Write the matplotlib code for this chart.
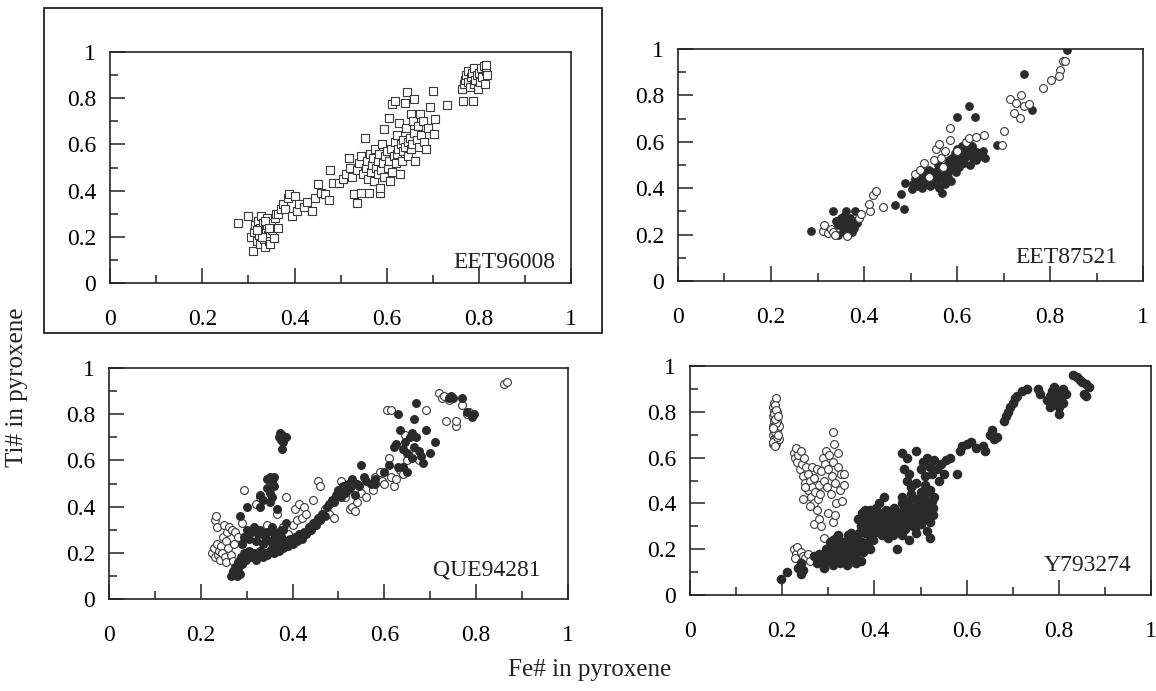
import matplotlib
matplotlib.use('Agg')
import matplotlib.pyplot as plt
from matplotlib.patches import Rectangle
from matplotlib.ticker import MultipleLocator

plt.rcParams['font.family'] = ['Liberation Serif', 'DejaVu Serif']

# Fe#, Ti# pairs
eet96008_open = [
    (0.277, 0.26), (0.30, 0.29), (0.305, 0.20), (0.31, 0.14), (0.312, 0.22), (0.315, 0.25), (0.318, 0.18),
    (0.32, 0.27), (0.322, 0.21), (0.325, 0.24), (0.326, 0.17), (0.328, 0.29), (0.33, 0.22), (0.332, 0.26),
    (0.334, 0.19), (0.336, 0.155), (0.338, 0.23), (0.34, 0.28), (0.341, 0.25), (0.343, 0.21), (0.345, 0.18),
    (0.347, 0.17), (0.35, 0.26), (0.352, 0.23), (0.355, 0.195), (0.358, 0.28), (0.36, 0.30), (0.365, 0.24),
    (0.33, 0.20), (0.318, 0.23), (0.335, 0.27), (0.345, 0.24),
    (0.365, 0.30), (0.37, 0.32), (0.375, 0.34), (0.379, 0.32), (0.385, 0.37), (0.389, 0.385), (0.395, 0.29),
    (0.40, 0.375), (0.405, 0.31), (0.41, 0.34), (0.42, 0.33), (0.426, 0.35), (0.438, 0.31), (0.445, 0.37),
    (0.451, 0.43), (0.458, 0.39), (0.465, 0.385), (0.474, 0.36), (0.476, 0.49), (0.484, 0.435),
    (0.496, 0.435), (0.505, 0.45),
    (0.512, 0.47), (0.518, 0.54), (0.52, 0.50), (0.525, 0.46), (0.529, 0.385), (0.535, 0.345), (0.535, 0.49),
    (0.54, 0.52), (0.545, 0.39), (0.545, 0.55), (0.548, 0.47), (0.553, 0.63), (0.555, 0.50), (0.558, 0.53),
    (0.56, 0.45), (0.561, 0.39), (0.563, 0.56), (0.565, 0.48), (0.568, 0.51), (0.57, 0.54), (0.572, 0.44),
    (0.575, 0.58), (0.577, 0.50), (0.58, 0.47), (0.582, 0.53), (0.584, 0.56), (0.586, 0.39), (0.586, 0.41),
    (0.588, 0.49), (0.59, 0.60), (0.592, 0.52), (0.594, 0.665), (0.595, 0.46), (0.597, 0.55), (0.60, 0.57),
    (0.602, 0.50), (0.604, 0.716), (0.605, 0.53), (0.607, 0.44), (0.61, 0.58), (0.611, 0.773), (0.612, 0.48),
    (0.615, 0.55), (0.617, 0.787), (0.618, 0.61), (0.62, 0.52), (0.622, 0.64), (0.623, 0.56), (0.625, 0.58),
    (0.627, 0.694), (0.628, 0.47), (0.63, 0.60), (0.632, 0.53), (0.635, 0.62), (0.636, 0.57), (0.639, 0.78),
    (0.64, 0.59), (0.642, 0.67), (0.643, 0.828), (0.645, 0.55), (0.647, 0.61), (0.65, 0.63), (0.652, 0.73),
    (0.653, 0.58), (0.655, 0.60), (0.657, 0.70), (0.66, 0.795), (0.66, 0.65), (0.662, 0.53), (0.665, 0.62),
    (0.668, 0.68), (0.67, 0.59), (0.672, 0.73), (0.675, 0.64), (0.678, 0.70), (0.68, 0.61), (0.686, 0.58),
    (0.69, 0.67), (0.693, 0.76), (0.70, 0.83), (0.703, 0.645), (0.705, 0.71), (0.731, 0.77),
    (0.762, 0.84), (0.766, 0.79), (0.768, 0.86), (0.77, 0.88), (0.772, 0.90), (0.775, 0.92), (0.777, 0.87),
    (0.78, 0.85), (0.782, 0.89), (0.785, 0.91), (0.787, 0.79), (0.788, 0.86), (0.79, 0.93), (0.792, 0.88),
    (0.795, 0.90), (0.797, 0.84), (0.80, 0.91), (0.802, 0.87), (0.805, 0.93), (0.807, 0.89), (0.81, 0.94),
    (0.812, 0.86), (0.815, 0.92), (0.816, 0.945), (0.818, 0.90),
]

eet87521_filled = [
    (0.286, 0.216), (0.334, 0.304), (0.344, 0.197), (0.38, 0.304),
    (0.34, 0.26), (0.345, 0.24), (0.35, 0.27), (0.352, 0.25), (0.355, 0.23), (0.358, 0.28), (0.36, 0.26),
    (0.362, 0.30), (0.365, 0.24), (0.368, 0.22), (0.37, 0.27), (0.372, 0.25), (0.375, 0.21), (0.378, 0.23),
    (0.38, 0.26), (0.384, 0.25), (0.348, 0.265), (0.356, 0.215),
    (0.467, 0.328), (0.485, 0.309), (0.48, 0.377), (0.489, 0.422), (0.503, 0.396),
    (0.505, 0.42), (0.51, 0.44), (0.515, 0.41), (0.518, 0.46), (0.52, 0.43), (0.523, 0.45), (0.525, 0.40),
    (0.528, 0.47), (0.53, 0.44), (0.532, 0.42), (0.535, 0.46), (0.538, 0.43), (0.54, 0.48), (0.542, 0.41),
    (0.545, 0.45), (0.548, 0.44), (0.55, 0.47), (0.552, 0.42), (0.555, 0.46), (0.558, 0.43), (0.56, 0.50),
    (0.562, 0.40), (0.565, 0.45), (0.567, 0.38), (0.568, 0.48), (0.57, 0.44), (0.573, 0.47), (0.575, 0.42),
    (0.578, 0.50), (0.58, 0.45), (0.582, 0.52), (0.585, 0.48), (0.587, 0.43), (0.59, 0.53), (0.592, 0.50),
    (0.595, 0.55), (0.597, 0.47), (0.60, 0.57), (0.602, 0.52), (0.605, 0.49), (0.608, 0.55), (0.61, 0.58),
    (0.612, 0.53), (0.615, 0.51), (0.618, 0.56), (0.62, 0.59), (0.622, 0.54), (0.625, 0.57), (0.628, 0.50),
    (0.63, 0.55), (0.633, 0.58), (0.635, 0.53), (0.638, 0.56), (0.64, 0.52), (0.645, 0.55), (0.65, 0.54),
    (0.655, 0.56), (0.66, 0.53),
    (0.601, 0.709), (0.626, 0.753), (0.638, 0.709), (0.687, 0.587), (0.743, 0.894), (0.761, 0.738),
    (0.836, 0.997),
]
eet87521_open = [
    (0.311, 0.216), (0.315, 0.242), (0.322, 0.205), (0.328, 0.225), (0.333, 0.21), (0.338, 0.20),
    (0.364, 0.194), (0.389, 0.27), (0.393, 0.289), (0.413, 0.304), (0.411, 0.332), (0.419, 0.371),
    (0.425, 0.388), (0.44, 0.318), (0.51, 0.46), (0.52, 0.48), (0.529, 0.508), (0.54, 0.45), (0.55, 0.52),
    (0.555, 0.57), (0.561, 0.591), (0.565, 0.53), (0.57, 0.49), (0.575, 0.56), (0.585, 0.659),
    (0.585, 0.606), (0.60, 0.56), (0.62, 0.60), (0.626, 0.616), (0.64, 0.623), (0.659, 0.629), (0.70, 0.647),
    (0.697, 0.587), (0.714, 0.786), (0.726, 0.767), (0.738, 0.803), (0.722, 0.724), (0.736, 0.702),
    (0.743, 0.755), (0.754, 0.764), (0.785, 0.832), (0.803, 0.865), (0.821, 0.911), (0.82, 0.882),
    (0.828, 0.947), (0.832, 0.947),
]

que94281_open = [
    (0.225, 0.20), (0.228, 0.22), (0.23, 0.18), (0.232, 0.34), (0.233, 0.36), (0.235, 0.31), (0.236, 0.24),
    (0.238, 0.19), (0.24, 0.21), (0.242, 0.17), (0.245, 0.23), (0.246, 0.20), (0.248, 0.27), (0.25, 0.32),
    (0.252, 0.18), (0.254, 0.25), (0.256, 0.16), (0.258, 0.29), (0.26, 0.22), (0.262, 0.31), (0.265, 0.19),
    (0.268, 0.30), (0.27, 0.165), (0.272, 0.24), (0.275, 0.29), (0.28, 0.27), (0.29, 0.33), (0.295, 0.47),
    (0.31, 0.29), (0.32, 0.41), (0.33, 0.44), (0.335, 0.27), (0.345, 0.32), (0.36, 0.26), (0.365, 0.37),
    (0.37, 0.23), (0.38, 0.31), (0.385, 0.44), (0.39, 0.28), (0.40, 0.32), (0.405, 0.39), (0.41, 0.34),
    (0.415, 0.41), (0.42, 0.35), (0.425, 0.40), (0.43, 0.37), (0.445, 0.43), (0.455, 0.51), (0.46, 0.49),
    (0.47, 0.39), (0.48, 0.37), (0.49, 0.35), (0.505, 0.51), (0.515, 0.44), (0.52, 0.47), (0.525, 0.39),
    (0.53, 0.40), (0.535, 0.38), (0.54, 0.42), (0.55, 0.46), (0.56, 0.44), (0.575, 0.47), (0.58, 0.53),
    (0.59, 0.55), (0.595, 0.51), (0.60, 0.50), (0.605, 0.82), (0.615, 0.82), (0.61, 0.61), (0.615, 0.53),
    (0.62, 0.49), (0.625, 0.52), (0.635, 0.56), (0.64, 0.54), (0.645, 0.71), (0.65, 0.60), (0.66, 0.62),
    (0.67, 0.63), (0.675, 0.60), (0.69, 0.82), (0.72, 0.89), (0.725, 0.87), (0.74, 0.86), (0.73, 0.88),
    (0.735, 0.77), (0.755, 0.75), (0.756, 0.77), (0.77, 0.84), (0.78, 0.80), (0.785, 0.81), (0.86, 0.93),
    (0.868, 0.94),
]
que94281_filled = [
    (0.265, 0.10), (0.27, 0.12), (0.272, 0.11), (0.275, 0.14), (0.278, 0.10), (0.28, 0.16), (0.282, 0.13),
    (0.285, 0.11), (0.288, 0.18), (0.29, 0.15), (0.295, 0.20), (0.298, 0.17), (0.30, 0.19), (0.305, 0.21),
    (0.31, 0.18), (0.315, 0.20), (0.32, 0.17), (0.325, 0.19), (0.33, 0.21), (0.335, 0.18), (0.34, 0.20),
    (0.345, 0.19), (0.35, 0.21), (0.355, 0.22), (0.36, 0.20), (0.365, 0.23), (0.37, 0.21), (0.375, 0.24),
    (0.38, 0.22), (0.385, 0.25), (0.39, 0.23), (0.395, 0.26), (0.40, 0.24), (0.405, 0.27), (0.41, 0.25),
    (0.415, 0.28), (0.42, 0.26), (0.425, 0.29), (0.43, 0.28), (0.435, 0.31), (0.44, 0.30), (0.445, 0.33),
    (0.45, 0.32), (0.455, 0.35), (0.46, 0.34), (0.465, 0.37), (0.47, 0.36), (0.475, 0.40), (0.48, 0.41),
    (0.485, 0.43), (0.49, 0.42), (0.495, 0.45), (0.50, 0.47), (0.505, 0.44), (0.51, 0.49), (0.515, 0.46),
    (0.52, 0.50), (0.525, 0.48), (0.53, 0.52), (0.535, 0.45), (0.54, 0.50), (0.545, 0.49), (0.55, 0.58),
    (0.555, 0.53), (0.56, 0.51), (0.57, 0.50), (0.58, 0.52),
    (0.29, 0.24), (0.295, 0.27), (0.30, 0.30), (0.305, 0.26), (0.31, 0.29), (0.315, 0.31), (0.32, 0.25),
    (0.325, 0.28), (0.33, 0.30), (0.335, 0.24), (0.34, 0.27), (0.345, 0.29), (0.35, 0.25), (0.355, 0.31),
    (0.36, 0.28), (0.365, 0.25), (0.37, 0.29), (0.375, 0.27), (0.38, 0.30), (0.285, 0.36), (0.30, 0.40),
    (0.37, 0.70), (0.372, 0.72), (0.375, 0.69), (0.378, 0.71), (0.38, 0.68), (0.385, 0.70), (0.376, 0.65),
    (0.345, 0.52), (0.35, 0.53), (0.355, 0.51), (0.36, 0.53), (0.345, 0.48), (0.35, 0.46), (0.355, 0.44),
    (0.35, 0.42), (0.36, 0.49), (0.33, 0.45), (0.335, 0.43), (0.33, 0.40), (0.365, 0.39), (0.375, 0.30),
    (0.385, 0.33),
    (0.61, 0.58), (0.62, 0.66), (0.625, 0.67), (0.63, 0.80), (0.635, 0.73), (0.64, 0.65), (0.645, 0.68),
    (0.65, 0.63), (0.655, 0.70), (0.66, 0.72), (0.66, 0.61), (0.665, 0.66), (0.67, 0.70), (0.675, 0.64),
    (0.68, 0.62), (0.67, 0.85), (0.665, 0.78), (0.685, 0.59), (0.69, 0.73), (0.70, 0.63), (0.71, 0.68),
    (0.74, 0.87), (0.745, 0.88), (0.75, 0.87), (0.77, 0.87), (0.79, 0.79), (0.795, 0.80), (0.78, 0.81),
    (0.64, 0.57), (0.65, 0.55), (0.60, 0.55), (0.58, 0.50), (0.63, 0.57),
]

y793274_open = [
    (0.18, 0.66), (0.18, 0.70), (0.18, 0.74), (0.18, 0.78), (0.18, 0.82), (0.183, 0.68), (0.183, 0.72),
    (0.183, 0.76), (0.183, 0.80), (0.183, 0.84), (0.186, 0.66), (0.186, 0.70), (0.186, 0.74), (0.186, 0.78),
    (0.186, 0.86), (0.189, 0.72), (0.189, 0.76), (0.189, 0.80), (0.192, 0.68), (0.192, 0.74),
    (0.181, 0.67), (0.184, 0.71), (0.187, 0.75), (0.182, 0.79), (0.185, 0.83), (0.188, 0.69),
    (0.181, 0.73), (0.184, 0.77), (0.187, 0.81), (0.19, 0.70), (0.19, 0.78), (0.185, 0.65),
    (0.225, 0.62), (0.228, 0.60), (0.23, 0.64), (0.233, 0.58), (0.235, 0.61), (0.238, 0.55), (0.24, 0.63),
    (0.242, 0.57), (0.245, 0.52), (0.247, 0.60), (0.25, 0.49), (0.252, 0.56), (0.255, 0.46), (0.257, 0.53),
    (0.26, 0.50), (0.262, 0.43), (0.265, 0.47), (0.268, 0.40), (0.27, 0.51), (0.272, 0.45), (0.275, 0.37),
    (0.278, 0.42), (0.28, 0.48), (0.283, 0.44), (0.246, 0.42), (0.25, 0.47), (0.26, 0.39), (0.265, 0.56),
    (0.275, 0.55),
    (0.285, 0.54), (0.288, 0.60), (0.29, 0.50), (0.292, 0.57), (0.295, 0.63), (0.297, 0.47), (0.30, 0.55),
    (0.302, 0.61), (0.305, 0.44), (0.307, 0.52), (0.31, 0.58), (0.31, 0.71), (0.312, 0.66), (0.315, 0.49),
    (0.317, 0.40), (0.32, 0.56), (0.322, 0.62), (0.325, 0.46), (0.328, 0.53), (0.33, 0.41), (0.335, 0.48),
    (0.335, 0.53),
    (0.27, 0.31), (0.28, 0.33), (0.285, 0.30), (0.29, 0.25), (0.30, 0.36), (0.31, 0.32), (0.315, 0.35),
    (0.225, 0.20), (0.23, 0.18), (0.232, 0.21), (0.235, 0.16), (0.24, 0.19), (0.245, 0.17), (0.25, 0.16),
    (0.255, 0.18), (0.26, 0.15), (0.228, 0.16),
]
y793274_filled = [
    (0.197, 0.07), (0.21, 0.10), (0.24, 0.09), (0.235, 0.12), (0.24, 0.14), (0.245, 0.11),
    (0.27, 0.17), (0.275, 0.14), (0.28, 0.18), (0.285, 0.15), (0.29, 0.12), (0.293, 0.17), (0.296, 0.20),
    (0.30, 0.15), (0.303, 0.23), (0.306, 0.18), (0.31, 0.13), (0.313, 0.21), (0.316, 0.25), (0.32, 0.17),
    (0.323, 0.20), (0.326, 0.14), (0.33, 0.23), (0.333, 0.18), (0.336, 0.21), (0.34, 0.16), (0.343, 0.26),
    (0.346, 0.19), (0.35, 0.22), (0.353, 0.15), (0.356, 0.24), (0.36, 0.18), (0.363, 0.21), (0.366, 0.27),
    (0.37, 0.15), (0.373, 0.23), (0.376, 0.19), (0.32, 0.26), (0.31, 0.24), (0.34, 0.13), (0.35, 0.27),
    (0.36, 0.14), (0.30, 0.19), (0.31, 0.16), (0.325, 0.22), (0.33, 0.16), (0.345, 0.22), (0.355, 0.19),
    (0.365, 0.24), (0.375, 0.21), (0.385, 0.23), (0.39, 0.20),
    (0.37, 0.30), (0.375, 0.35), (0.38, 0.27), (0.385, 0.32), (0.39, 0.37), (0.393, 0.29), (0.396, 0.24),
    (0.40, 0.33), (0.403, 0.38), (0.406, 0.28), (0.41, 0.35), (0.413, 0.31), (0.416, 0.26), (0.42, 0.34),
    (0.423, 0.29), (0.426, 0.37), (0.43, 0.32), (0.433, 0.27), (0.436, 0.35), (0.44, 0.30), (0.443, 0.38),
    (0.446, 0.33), (0.45, 0.28), (0.453, 0.36), (0.456, 0.31), (0.46, 0.40), (0.463, 0.34), (0.466, 0.29),
    (0.47, 0.37), (0.473, 0.32), (0.476, 0.41), (0.48, 0.35), (0.483, 0.30), (0.486, 0.38), (0.49, 0.33),
    (0.493, 0.42), (0.496, 0.36), (0.50, 0.31), (0.503, 0.39), (0.506, 0.34), (0.51, 0.42), (0.513, 0.28),
    (0.516, 0.37), (0.52, 0.32), (0.523, 0.40), (0.526, 0.35), (0.53, 0.43), (0.52, 0.25), (0.45, 0.20),
    (0.475, 0.24), (0.42, 0.43), (0.40, 0.27), (0.38, 0.37), (0.44, 0.26), (0.49, 0.27), (0.50, 0.41),
    (0.48, 0.44), (0.515, 0.45),
    (0.365, 0.33), (0.372, 0.36), (0.38, 0.33), (0.388, 0.30), (0.395, 0.35), (0.402, 0.31), (0.41, 0.29),
    (0.418, 0.36), (0.425, 0.33), (0.432, 0.30), (0.44, 0.34), (0.448, 0.36), (0.455, 0.33), (0.462, 0.37),
    (0.47, 0.33), (0.478, 0.38), (0.485, 0.34), (0.492, 0.39), (0.50, 0.36), (0.508, 0.38), (0.515, 0.33),
    (0.522, 0.37), (0.43, 0.25), (0.46, 0.26), (0.49, 0.30), (0.41, 0.40), (0.46, 0.43), (0.505, 0.43),
    (0.525, 0.41), (0.39, 0.26), (0.395, 0.32),
    (0.378, 0.31), (0.392, 0.34), (0.405, 0.36), (0.415, 0.32), (0.428, 0.35), (0.438, 0.32), (0.452, 0.30),
    (0.458, 0.35), (0.468, 0.31), (0.482, 0.33), (0.495, 0.34), (0.51, 0.36), (0.518, 0.39), (0.528, 0.38),
    (0.42, 0.30), (0.445, 0.31), (0.475, 0.35), (0.50, 0.38), (0.33, 0.19), (0.34, 0.24), (0.355, 0.17),
    (0.315, 0.19), (0.305, 0.16), (0.36, 0.22),
    (0.46, 0.62), (0.47, 0.60), (0.475, 0.53), (0.49, 0.63), (0.465, 0.55), (0.47, 0.50), (0.48, 0.47),
    (0.49, 0.49), (0.50, 0.55), (0.505, 0.58), (0.51, 0.52), (0.515, 0.60), (0.52, 0.56), (0.525, 0.53),
    (0.53, 0.59), (0.535, 0.55), (0.54, 0.50), (0.545, 0.57), (0.55, 0.53), (0.555, 0.59), (0.51, 0.48),
    (0.50, 0.45), (0.52, 0.46), (0.58, 0.53), (0.565, 0.60), (0.585, 0.63), (0.59, 0.65),
    (0.60, 0.66), (0.61, 0.67), (0.62, 0.64), (0.635, 0.65), (0.64, 0.63), (0.65, 0.70), (0.655, 0.72),
    (0.66, 0.68), (0.665, 0.69), (0.68, 0.76), (0.685, 0.78), (0.69, 0.80), (0.695, 0.82), (0.70, 0.84),
    (0.705, 0.86), (0.71, 0.87), (0.72, 0.89), (0.73, 0.90), (0.755, 0.90), (0.76, 0.88),
    (0.775, 0.85), (0.78, 0.82), (0.78, 0.87), (0.785, 0.89), (0.79, 0.84), (0.79, 0.91), (0.795, 0.87),
    (0.80, 0.82), (0.80, 0.89), (0.805, 0.86), (0.81, 0.90), (0.81, 0.84), (0.815, 0.88), (0.80, 0.79),
    (0.785, 0.83),
    (0.83, 0.96), (0.84, 0.95), (0.845, 0.94), (0.85, 0.93), (0.86, 0.92), (0.865, 0.91), (0.855, 0.88),
    (0.86, 0.87),
]

sample_names = ['EET96008', 'EET87521', 'QUE94281', 'Y793274']
tick_vals = [0, 0.2, 0.4, 0.6, 0.8, 1]
tick_text = ['0', '0.2', '0.4', '0.6', '0.8', '1']

dark = '#2a2a2a'
edge = '#3a3a3a'

fig = plt.figure(figsize=(11.56, 6.91), dpi=100)

# axes placed to match the scanned layout (figure fractions)
positions = [
    [0.0952, 0.5904, 0.399, 0.3343],
    [0.5865, 0.5933, 0.4023, 0.3357],
    [0.0943, 0.1331, 0.397, 0.3343],
    [0.5969, 0.1389, 0.3988, 0.3314],
]
label_pos = [(0.965, 0.087), (0.944, 0.10), (0.941, 0.125), (0.957, 0.13)]

axes = [fig.add_axes(p) for p in positions]

for ax, name, (lx, ly) in zip(axes, sample_names, label_pos):
    ax.set_xlim(0, 1)
    ax.set_ylim(0, 1)
    ax.set_xticks(tick_vals)
    ax.set_xticklabels(tick_text)
    ax.set_yticks(tick_vals)
    ax.set_yticklabels(tick_text)
    ax.xaxis.set_minor_locator(MultipleLocator(0.1))
    ax.yaxis.set_minor_locator(MultipleLocator(0.1))
    ax.tick_params(which='major', direction='in', length=11, width=1.1, labelsize=17,
                   top=False, right=False, color='#222222')
    ax.tick_params(axis='x', which='major', pad=19)
    ax.tick_params(axis='y', which='major', pad=10)
    ax.tick_params(which='minor', direction='in', length=6, width=1.1, top=False, right=False,
                   color='#222222')
    for sp in ax.spines.values():
        sp.set_linewidth(1.2)
        sp.set_color('#222222')
    ax.text(lx, ly, name, fontsize=17, ha='right', va='center', color='#222222')


def pts(pairs):
    return [p[0] for p in pairs], [p[1] for p in pairs]


x, y = pts(eet96008_open)
axes[0].scatter(x, y, marker='s', s=30, facecolors='white', edgecolors=edge, linewidths=0.8, zorder=3)

x, y = pts(eet87521_filled)
axes[1].scatter(x, y, marker='o', s=40, color=dark, linewidths=0, zorder=3)
x, y = pts(eet87521_open)
axes[1].scatter(x, y, marker='o', s=32, facecolors='white', edgecolors=edge, linewidths=0.8, zorder=4)

x, y = pts(que94281_open)
axes[2].scatter(x, y, marker='o', s=32, facecolors='white', edgecolors=edge, linewidths=0.8, zorder=3)
x, y = pts(que94281_filled)
axes[2].scatter(x, y, marker='o', s=42, color=dark, linewidths=0, zorder=4)

x, y = pts(y793274_open)
axes[3].scatter(x, y, marker='o', s=32, facecolors='white', edgecolors=edge, linewidths=0.8, zorder=3)
x, y = pts(y793274_filled)
axes[3].scatter(x, y, marker='o', s=48, color=dark, linewidths=0, zorder=4)

# frame drawn round the first panel in the original
fig.patches.append(Rectangle((44 / 1156, 1 - 333 / 691), (602 - 44) / 1156, (333 - 8) / 691,
                             transform=fig.transFigure, fill=False, lw=1.3, edgecolor='#222222'))

fig.text(0.015, 0.44, 'Ti# in pyroxene', rotation=90, fontsize=18, ha='center', va='center',
         color='#222222')
fig.text(0.51, 0.03, 'Fe# in pyroxene', fontsize=18, ha='center', va='center', color='#222222')

fig.savefig('out.png', dpi=100)
